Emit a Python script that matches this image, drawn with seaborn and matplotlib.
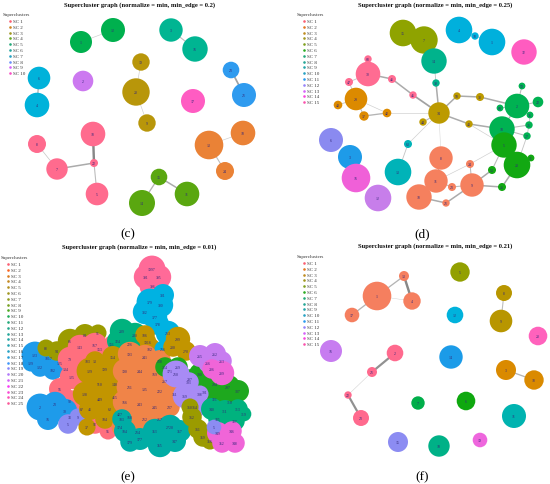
import pandas as pd
import matplotlib.pyplot as plt
import seaborn as sns

# ---------------- panel (c): min_edge = 0.2 ----------------
c_lab = ['12', '1', '3', '16', '23', '21', '6', '4', '2', '19', '20', '9', '17',
         '8', '18', '7', '22', '5', '13', '10', '24', '15', '14', '11']
c_x = [113, 81, 171, 195, 231, 244, 39, 37, 83, 141, 136, 147, 193,
       37, 93, 57, 94, 97, 209, 243, 225, 159, 142, 187]
c_y = [31, 43, 31, 50, 71, 96, 79, 106, 82, 63, 93, 124, 102,
       145, 135, 170, 164, 195, 146, 134, 172, 178, 204, 195]
c_r = [12, 11, 11.7, 12.7, 8.3, 12, 11.3, 12.3, 10.3, 8.7, 13.7, 8.7, 12,
       9, 12.3, 10.7, 4, 11.3, 14.3, 12.3, 9, 8.3, 13, 12.3]
c_grp = ['g', 'g', 't', 't', 'b', 'b', 'c', 'c', 'u', 'y', 'y', 'y', 'm',
         'p', 'p', 'p', 'p', 'p', 'o', 'o', 'o', 'l', 'l', 'l']
c_pal = {'p': '#FF6B8E', 'o': '#EA8236', 'y': '#B8960A', 'l': '#5AA710', 'g': '#00B04E',
         't': '#00B592', 'c': '#00B2DA', 'b': '#2F9BEF', 'u': '#CC79F0', 'm': '#FF5CC2'}
c_edges = [('1', '12', 0.1), ('3', '16', 0.3), ('23', '21', 0.6), ('6', '4', 0.4),
           ('19', '20', 0.1), ('20', '9', 0.1), ('8', '7', 0.15), ('7', '22', 0.5),
           ('18', '22', 0.9), ('22', '5', 0.3), ('13', '10', 0.1), ('13', '24', 0.3),
           ('15', '14', 0.4), ('15', '11', 0.5)]

# ---------------- panel (d): min_edge = 0.25 ----------------
d_id = ['15', '7', '14', '39', '4', '10c', '1', '32', '68', '30', '47', '46', '45',
        '29', '40', '37', '42', '34', '44', '50', '38', '43', '2', '59', '22', '60',
        '35', '10g', '25', '27', '5', '20', '31', '53', '26', '6', '3', '16', '12',
        '63', '13', '8', '11', '18', '24', '23', '9', '21']
d_lab = [i.rstrip('cg') for i in d_id]
d_x = [403, 424, 434, 436, 459, 475, 492, 524, 368, 368, 349, 392, 413,
       356, 338, 364, 387, 439, 423, 457, 480, 469, 517, 522, 538, 500,
       530, 502, 529, 527, 504, 517, 531, 492, 502, 331, 350, 356, 378,
       408, 398, 441, 436, 419, 470, 452, 472, 446]
d_y = [34, 41, 62, 84, 31, 37, 43, 53, 60, 75, 83, 80, 96,
       100, 106, 117, 114, 114, 123, 97, 98, 125, 107, 87, 103, 109,
       116, 130, 126, 137, 146, 166, 159, 171, 188, 141, 158, 179, 199,
       145, 173, 159, 182, 198, 165, 188, 186, 204]
d_r = [13.3, 13.7, 12.7, 3.7, 13.3, 3.7, 13.3, 12.7, 3.7, 12.3, 4, 4, 3.7,
       11.3, 4.3, 4.7, 4.3, 10.7, 3.7, 3.7, 4, 3.7, 12.3, 3.4, 5.3, 3.4,
       3.4, 12.7, 3.7, 3.7, 12.7, 13.3, 3.4, 4, 4, 12, 12, 14.3, 13.3,
       4, 13.3, 11.7, 11.7, 12.7, 4, 4, 11.7, 3.7]
d_grp = ['ol', 'ol', 'tg', 'tg', 'cy', 'cy', 'cy', 'mg', 'pk', 'pk', 'pk', 'pk', 'pk',
         'or', 'or', 'or', 'or', 'go', 'go', 'go', 'go', 'go', 'g1', 'g1', 'g1', 'g1',
         'g1', 'g1', 'g1', 'g1', 'g2', 'g2', 'g2', 'g2', 'g2', 'lv', 'bl', 'ma', 'pu',
         'te', 'te', 'sa', 'sa', 'sa', 'sa', 'sa', 'sa', 'sa']
d_pal = {'ol': '#8FA300', 'tg': '#00B38C', 'cy': '#00B0DC', 'mg': '#FF5CC0', 'pk': '#FF6C92',
         'or': '#DC8A00', 'go': '#BC9A00', 'g1': '#00B252', 'g2': '#12A812', 'lv': '#8A8AF0',
         'bl': '#1E9BE8', 'ma': '#F060D8', 'pu': '#C77EEA', 'te': '#00B3B8', 'sa': '#F5805E'}
d_edges = [('15', '7', 0.3), ('7', '14', 0.3), ('14', '39', 0.2), ('39', '34', 0.5),
           ('4', '10c', 0.2), ('10c', '1', 0.2), ('68', '30', 0.2), ('30', '47', 0.2),
           ('30', '46', 0.5), ('46', '45', 0.5), ('45', '34', 0.6), ('47', '29', 0.2),
           ('29', '40', 0.2), ('29', '37', 0.3), ('29', '42', 0.1), ('37', '42', 0.4),
           ('42', '34', 0.1), ('34', '44', 0.3), ('34', '50', 0.5), ('50', '38', 0.5),
           ('38', '2', 0.5), ('34', '43', 0.5), ('43', '10g', 0.5), ('34', '63', 0.1),
           ('63', '13', 0.2), ('34', '8', 0.03), ('2', '59', 0.3), ('2', '22', 0.3),
           ('2', '60', 0.3), ('2', '35', 0.3), ('2', '10g', 0.4), ('10g', '25', 0.3),
           ('10g', '27', 0.3), ('10g', '5', 0.3), ('5', '20', 0.3), ('20', '31', 0.3),
           ('5', '53', 0.3), ('53', '9', 0.5), ('20', '26', 0.5), ('26', '9', 0.5),
           ('9', '24', 0.3), ('24', '11', 0.1), ('9', '23', 0.3), ('23', '11', 0.3),
           ('11', '18', 0.3), ('18', '21', 0.5), ('21', '9', 0.5), ('8', '11', 0.3),
           ('24', '5', 0.1), ('43', '5', 0.1), ('35', '25', 0.2), ('25', '27', 0.2),
           ('27', '20', 0.2)]

# ---------------- panel (e): min_edge = 0.01 ----------------
e_lab = ['1997', '396', '391', '395',
         '379', '380', '382', '377', '378', '381',
         '123', '1817', '125', '122', '102', '129', '134',
         '94', '86', '84', '91', '88',
         '143', '167', '79', '183', '125', '56', '98', '87', '153', '151', '92', '95',
         '2', '23', '30', '16', '33', '5', '9',
         '209', '200', '324', '226', '186', '182', '1916', '216',
         '129', '199', '510', '128', '148', '449', '41', '62', '415', '427', '104', '154', '13', '37',
         '193', '241', '218', '190', '244', '169', '171', '211', '135', '222', '166', '243',
         '245', '168', '212', '257', '214', '237', '351', '174', '267',
         '213', '299', '200', '270',
         '254', '269', '300', '294', '297', '307', '301', '321', '310', '287',
         '265', '262', '263', '266', '289', '286',
         '210', '303', '369', '364', '308',
         '183', '184', '177', '353', '2720', '357', '355', '347', '179',
         '340', '311', '313', '335', '337', '319',
         '362', '361', '359', '356', '360',
         '349', '346', '352', '348', '5']
e_x = [152, 153, 146, 159,
       150, 161, 145, 155, 158, 163,
       35, 49, 60, 40, 53, 31, 66,
       57, 70, 85, 98, 46,
       80, 95, 70, 88, 72, 60, 70, 82, 100, 112, 95, 108,
       40, 55, 65, 48, 70, 68, 78,
       122, 135, 118, 130, 145, 150, 148, 163,
       90, 105, 100, 85, 115, 100, 90, 110, 115, 120, 105, 113, 95, 87,
       130, 145, 160, 125, 140, 155, 170, 130, 145, 160, 125, 140,
       155, 130, 145, 160, 138, 170, 175, 120, 165,
       168, 178, 173, 186,
       165, 178, 200, 215, 228, 238, 205, 215, 230, 190,
       200, 215, 222, 208, 222, 212,
       176, 189, 185, 195, 200,
       122, 125, 140, 155, 170, 180, 160, 175, 130,
       212, 225, 238, 218, 235, 244,
       192, 198, 203, 210, 190,
       218, 232, 222, 235, 214]
e_y = [270, 287, 278, 278,
       303, 306, 313, 318, 325, 296,
       356, 359, 364, 368, 371, 364, 370,
       352, 342, 336, 334, 349,
       348, 346, 360, 362, 378, 390, 402, 410, 350, 345, 425, 432,
       408, 405, 412, 420, 418, 425, 418,
       332, 336, 342, 345, 336, 350, 343, 350,
       372, 370, 385, 395, 385, 400, 410, 410, 398, 415, 420, 358, 362, 428,
       355, 358, 362, 372, 372, 375, 372, 388, 390, 392, 403, 405,
       408, 418, 420, 420, 433, 408, 395, 428, 382,
       334, 340, 348, 352,
       368, 368, 375, 385, 388, 392, 393, 400, 403, 380,
       357, 355, 362, 364, 374, 370,
       375, 383, 397, 408, 395,
       420, 432, 440, 432, 428, 432, 446, 442, 443,
       410, 412, 410, 420, 422, 415,
       418, 430, 438, 442, 408,
       434, 432, 444, 444, 428]
e_r = [11, 11, 10, 10,
       11, 10, 10, 10, 9, 9,
       11, 10, 9, 8, 8, 7, 8,
       8, 10, 9, 7, 7,
       10, 10, 10, 10, 10, 9, 9, 8, 8, 7, 8, 7,
       11, 10, 10, 9, 8, 8, 7,
       10, 10, 9, 8, 8, 9, 7, 7,
       11, 11, 11, 10, 10, 10, 9, 9, 9, 9, 8, 9, 8, 7,
       10, 10, 9, 10, 11, 10, 9, 11, 11, 10, 10, 11,
       10, 10, 10, 8, 8, 8, 8, 7, 8,
       10, 10, 8, 8,
       8, 8, 9, 10, 10, 9, 9, 8, 9, 8,
       9, 9, 8, 8, 10, 8,
       11, 8, 10, 9, 7,
       8, 9, 9, 10, 10, 9, 10, 9, 8,
       9, 9, 8, 8, 8, 6,
       8, 8, 8, 7, 7,
       9, 8, 8, 8, 6]
e_grp = ['pk'] * 4 + ['cy'] * 6 + ['bl'] * 7 + ['ol'] * 5 + ['sp'] * 12 + ['bl'] * 5 + ['lv'] * 2 + \
        ['tg'] * 4 + ['go'] * 3 + ['cy'] + ['go'] * 14 + ['or'] * 21 + ['cy'] + ['go'] * 3 + \
        ['gr'] * 10 + ['pu'] * 4 + ['ma'] * 2 + ['lp'] * 5 + ['te'] * 9 + ['tg'] * 6 + ['ol'] * 5 + \
        ['ma'] * 4 + ['lv']
e_pal = {'pk': '#FF6A98', 'cy': '#00B2E2', 'bl': '#1E9BEA', 'ol': '#9B9B00', 'sp': '#FF6F7E',
         'lv': '#8C8CF2', 'tg': '#00B27E', 'go': '#C29500', 'or': '#F08448', 'gr': '#1EA81E',
         'pu': '#C77CF0', 'ma': '#F065D8', 'lp': '#A88BF5', 'te': '#00ADA5'}

# ---------------- panel (f): min_edge = 0.21 ----------------
f_lab = ['5', '13', '1', '4', '17', '12', '8', '9', '20', '16', '2', '14',
         '3', '18', '21', '22', '23', '7', '6', '11', '15', '10', '19']
f_x = [460, 404, 377, 412, 352, 455, 504, 501, 538, 331, 395, 451,
       506, 534, 372, 348, 361, 418, 466, 514, 398, 439, 480]
f_y = [273, 277, 297, 302, 316, 316, 294, 322, 337, 352, 354, 358,
       371, 381, 373, 396, 419, 404, 402, 417, 443, 447, 441]
f_r = [9.7, 5, 14.3, 8.7, 7.3, 8.3, 8, 11.3, 9.3, 11, 8.3, 11.7,
       10, 9.7, 5, 3.7, 8, 6.7, 9.3, 12, 10, 10.7, 7.3]
f_grp = ['ol', 'sa', 'sa', 'sa', 'sa', 'cy', 'go', 'go', 'pk', 'pu', 'pr', 'bl',
         'or', 'or', 'pr', 'pr', 'pr', 'g1', 'g2', 'te', 'lv', 'tg', 'ma']
f_pal = {'ol': '#92A000', 'sa': '#F57F5F', 'cy': '#00B2DC', 'go': '#B89600', 'pk': '#FF62BC',
         'pu': '#C77CF0', 'pr': '#FF6A8E', 'bl': '#1B9BE8', 'or': '#DA8A00', 'g1': '#00AE4A',
         'g2': '#0FA80F', 'te': '#00B3B0', 'lv': '#8C8CF2', 'tg': '#00B187', 'ma': '#EE66DD'}
f_edges = [('1', '13', 0.4), ('13', '4', 0.9), ('1', '4', 0.03), ('1', '17', 0.4),
           ('8', '9', 0.3), ('2', '21', 0.8), ('21', '22', 0.05), ('22', '23', 0.8),
           ('3', '18', 0.4)]

# panel texts: min_edge in title, number of superclusters, caption
titles = ['0.2', '0.25', '0.01', '0.21']
n_sc = [10, 15, 25, 15]
captions = ['(c)', '(d)', '(e)', '(f)']

sns.set_theme(style='white')
plt.rcParams['font.family'] = ['Liberation Serif', 'DejaVu Serif']

fig = plt.figure(figsize=(5.5, 4.85), dpi=100)
ax = fig.add_axes([0, 0, 1, 1])
ax.set_xlim(0, 550)
ax.set_ylim(485, 0)
ax.set_axis_off()

PX = 0.72  # points per pixel at 100 dpi


def draw_graph(xs, ys, rs, grp, labs, pal, ids=None, edges=(), grow=1.0):
    df = pd.DataFrame({'x': xs, 'y': ys, 'r': rs, 'grp': grp, 'lab': labs})
    df['id'] = ids if ids is not None else labs
    pos = df.set_index('id')[['x', 'y']]
    for a, b, w in edges:
        ax.plot(pos.loc[[a, b], 'x'], pos.loc[[a, b], 'y'],
                color=str(0.84 - 0.34 * w), lw=0.3 + 1.6 * w, zorder=1)
    sns.scatterplot(data=df, x='x', y='y', hue='grp', palette=pal,
                    s=(2 * PX * grow * df['r']) ** 2, linewidth=0, legend=False,
                    ax=ax, zorder=2)
    for _, row in df.iterrows():
        ax.text(row['x'], row['y'], row['lab'], fontsize=2.8, ha='center',
                va='center', color='#33287a', zorder=3)


def draw_legend(x0, y0, n):
    cols = sns.husl_palette(n, h=0.02, s=0.95, l=0.62)
    ax.text(x0, y0, 'Superclusters', fontsize=3.6, ha='left', va='center', color='#333333')
    for i in range(n):
        y = y0 + 7 + i * 5.8
        ax.scatter(x0 + 7, y, s=3.5, color=cols[i], linewidth=0, zorder=3)
        ax.text(x0 + 10, y, f'SC {i + 1}', fontsize=3.6, ha='left', va='center', color='#333333')


draw_graph(c_x, c_y, c_r, c_grp, c_lab, c_pal, edges=c_edges)
draw_graph(d_x, d_y, d_r, d_grp, d_lab, d_pal, ids=d_id, edges=d_edges)
draw_graph(e_x, e_y, e_r, e_grp, e_lab, e_pal, grow=1.22)
draw_graph(f_x, f_y, f_r, f_grp, f_lab, f_pal, edges=f_edges)

# panel anchors (pixel positions of title centre, legend corner and caption)
title_pos = [(140, 5), (435, 5), (139, 247), (435, 246)]
legend_pos = [(3, 15), (297, 15), (1, 258), (297, 257)]
caption_pos = [(128, 234), (422, 234), (128, 477), (422, 477)]

for k in range(4):
    tx, ty = title_pos[k]
    ax.text(tx, ty, f'Supercluster graph (normalize = min, min_edge = {titles[k]})',
            fontsize=4.7, fontweight='bold', ha='center', va='center', color='#111111')
    draw_legend(*legend_pos[k], n_sc[k])
    cx, cy = caption_pos[k]
    ax.text(cx, cy, captions[k], fontsize=9.5, ha='center', va='center', color='black')

fig.savefig('out.png', dpi=100)
